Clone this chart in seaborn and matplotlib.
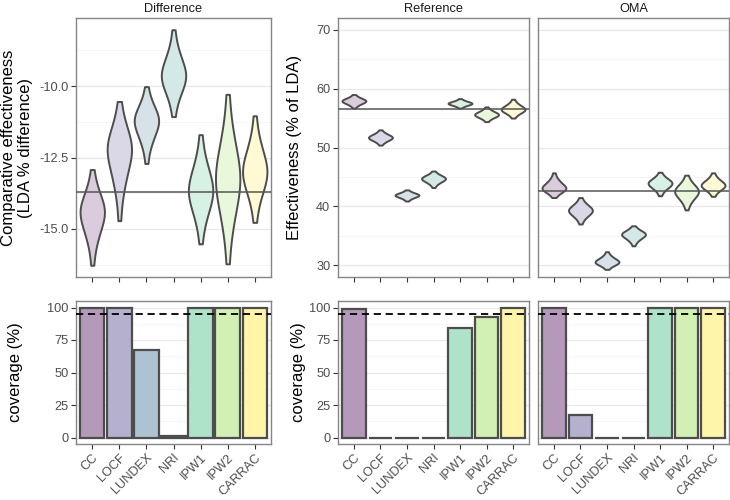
import pandas as pd
import matplotlib
matplotlib.use("Agg")
import matplotlib.pyplot as plt
import seaborn as sns
from matplotlib.ticker import MultipleLocator, FormatStrFormatter
from matplotlib.colors import to_rgb

methods = ["CC", "LOCF", "LUNDEX", "NRI", "IPW1", "IPW2", "CARRAC"]

# violins: peak and both tail ends
diff_peak = [-14.45, -12.30, -11.25, -9.62, -13.65, -13.25, -12.98]
diff_low = [-16.27, -14.71, -12.71, -11.07, -15.52, -16.22, -14.77]
diff_high = [-12.92, -10.54, -10.02, -8.03, -11.70, -10.29, -11.04]
diff_line = -13.7

ref_peak = [57.9, 51.7, 41.9, 44.7, 57.5, 55.6, 56.5]
ref_low = [56.7, 50.4, 40.9, 43.2, 56.7, 54.4, 55.0]
ref_high = [59.0, 53.0, 42.8, 46.0, 58.3, 56.9, 58.2]
ref_line = 56.5

oma_peak = [43.2, 39.3, 30.6, 35.2, 43.9, 42.5, 43.6]
oma_low = [41.5, 37.0, 29.3, 33.3, 41.8, 39.4, 41.7]
oma_high = [45.7, 41.5, 32.3, 36.7, 45.8, 45.3, 45.7]
oma_line = 42.6

# coverage bars
cov_diff = [100, 100, 67, 1.2, 100, 100, 100]
cov_ref = [99, 0, 0, 0, 84, 93, 100]
cov_oma = [100, 17, 0, 0, 100, 100, 100]
cov_target = 95

# one side of a violin, as fraction of the way from the peak to the tail end
shape = [0.02, 0.06, 0.10, 0.15, 0.19, 0.24, 0.29, 0.35, 0.41, 0.49, 0.58, 0.73, 1.0]

viridis7 = ["#440154", "#443A83", "#31688E", "#21908C", "#35B779", "#8FD744", "#FDE725"]
edge = "#4d4d4d"
TICK_SIZE = 9.2
TITLE_SIZE = 12


def faded(col, alpha):
    r, g, b = to_rgb(col)
    return (1 - alpha + alpha * r, 1 - alpha + alpha * g, 1 - alpha + alpha * b)


violin_cols = [faded(c, 0.2) for c in viridis7]
bar_cols = [faded(c, 0.4) for c in viridis7]


def violin_frame(peak, low, high):
    rows = []
    for m, p, lo, hi in zip(methods, peak, low, high):
        rows.append((m, p))
        for s in shape:
            rows.append((m, p - s * (p - lo)))
            rows.append((m, p + s * (hi - p)))
    return pd.DataFrame(rows, columns=["method", "value"])


sns.set_theme(style="white")
plt.rcParams["font.family"] = ["Liberation Sans", "DejaVu Sans"]

fig = plt.figure(figsize=(7.3, 5.0), dpi=100)
W, H = 730, 500


def panel(x0, x1, y0, y1):
    return fig.add_axes([x0 / W, 1 - y1 / H, (x1 - x0) / W, (y1 - y0) / H])


ax_d = panel(76, 271, 18, 277)
ax_r = panel(338, 529, 18, 277)
ax_o = panel(538, 729, 18, 277)
bx_d = panel(76, 271, 301, 444)
bx_r = panel(338, 529, 301, 444)
bx_o = panel(538, 729, 301, 444)


def style(ax, major, minor, ylim):
    ax.set_xlim(-0.6, 6.6)
    ax.set_ylim(*ylim)
    ax.yaxis.set_major_locator(MultipleLocator(major))
    ax.yaxis.set_minor_locator(MultipleLocator(minor))
    ax.grid(which="major", axis="y", color="#e8e8e8", lw=0.9)
    ax.grid(which="minor", axis="y", color="#f4f4f4", lw=0.6)
    ax.grid(which="both", axis="x", visible=False)
    ax.set_axisbelow(True)
    for sp in ax.spines.values():
        sp.set_color("#858585")
        sp.set_linewidth(1.0)
    ax.tick_params(which="major", length=3.5, width=0.8, color="#333333",
                   labelcolor="#4d4d4d", labelsize=TICK_SIZE, pad=2,
                   bottom=True, left=True)
    ax.tick_params(which="minor", length=0)
    ax.set_xlabel("")
    ax.set_ylabel("")


# top row: violins
tops = [
    (ax_d, diff_peak, diff_low, diff_high, diff_line, "Difference"),
    (ax_r, ref_peak, ref_low, ref_high, ref_line, "Reference"),
    (ax_o, oma_peak, oma_low, oma_high, oma_line, "OMA"),
]
for ax, pk, lo, hi, line, title in tops:
    df = violin_frame(pk, lo, hi)
    sns.violinplot(data=df, x="method", y="value", hue="method", order=methods,
                   hue_order=methods, palette=violin_cols, saturation=1, legend=False,
                   cut=0, inner=None, density_norm="width", width=0.9,
                   linewidth=1.4, linecolor=edge, ax=ax)
    ax.axhline(line, color="#555555", lw=1.1, zorder=4)
    ax.set_title(title, fontsize=TICK_SIZE, color="#1a1a1a", pad=4)

style(ax_d, 2.5, 1.25, (-16.68, -7.62))
ax_d.yaxis.set_major_formatter(FormatStrFormatter("%.1f"))
style(ax_r, 10, 5, (28, 72))
style(ax_o, 10, 5, (28, 72))
for ax in (ax_d, ax_r, ax_o):
    ax.tick_params(axis="x", labelbottom=False)
ax_o.tick_params(axis="y", left=False, labelleft=False)

ax_d.set_ylabel("Comparative effectiveness\n(LDA % difference)",
                fontsize=TITLE_SIZE, color="black")
ax_d.yaxis.set_label_coords(-0.22, 0.5)
ax_r.set_ylabel("Effectiveness (% of LDA)", fontsize=TITLE_SIZE, color="black")
ax_r.yaxis.set_label_coords(-0.19, 0.5)

# bottom row: coverage bars
for bx, cov in ((bx_d, cov_diff), (bx_r, cov_ref), (bx_o, cov_oma)):
    cdf = pd.DataFrame({"method": methods, "coverage": cov})
    sns.barplot(data=cdf, x="method", y="coverage", hue="method", order=methods,
                hue_order=methods, palette=bar_cols, saturation=1, legend=False,
                width=0.9, edgecolor=edge, linewidth=1.6, ax=bx)
    bx.axhline(cov_target, color="black", lw=1.3, ls=(0, (4, 2.6)), zorder=5)
    style(bx, 25, 12.5, (-5, 105))
    bx.set_xticks(range(len(methods)))
    bx.set_xticklabels(methods, rotation=45, ha="right", va="top",
                       rotation_mode="anchor")

bx_o.tick_params(axis="y", left=False, labelleft=False)
bx_d.set_ylabel("coverage (%)", fontsize=TITLE_SIZE, color="black")
bx_d.yaxis.set_label_coords(-0.27, 0.5)
bx_r.set_ylabel("coverage (%)", fontsize=TITLE_SIZE, color="black")
bx_r.yaxis.set_label_coords(-0.17, 0.5)

fig.savefig("out.png", dpi=100, facecolor="white")
